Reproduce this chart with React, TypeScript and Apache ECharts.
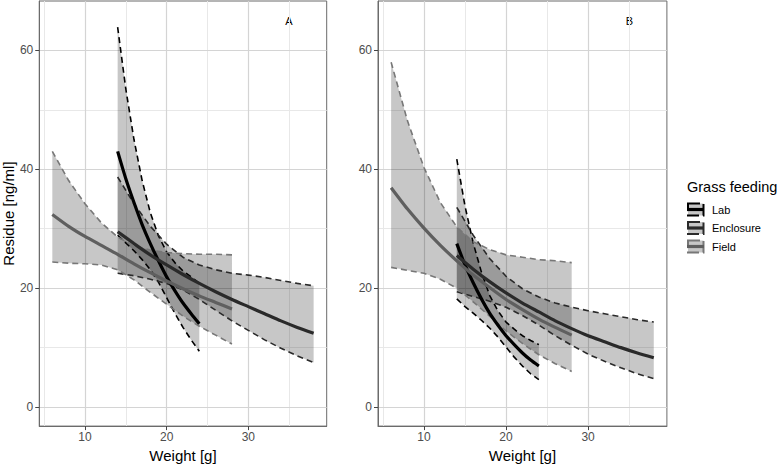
import React, { useEffect, useRef } from 'react';
import * as echarts from 'echarts';

const groups = ['Lab', 'Enclosure', 'Field'];
const lineColors = ['#000000', '#2a2a2a', '#5f5f5f'];
const dashColors = ['#000000', '#2a2a2a', '#777777'];

const weightLab = [14, 15, 16, 17, 18, 19, 20, 21, 22, 23, 24];
const weightEnclosure = [14, 16, 18, 20, 22, 24, 26, 28, 30, 32, 34, 36, 38];
const weightField = [6, 8, 10, 12, 14, 16, 18, 20, 22, 24, 26, 28];

// panel A
const labFitA = [43.0, 38.4, 34.4, 30.7, 27.5, 24.6, 21.9, 19.6, 17.5, 15.7, 14.0];
const labHiA = [63.9, 53.5, 45.0, 38.1, 32.7, 28.8, 26.1, 24.3, 22.9, 21.9, 20.8];
const labLoA = [28.9, 27.6, 26.3, 24.8, 23.1, 21.0, 18.4, 15.8, 13.4, 11.3, 9.4];
const enclosureFitA = [29.5, 27.5, 25.6, 23.9, 22.3, 20.8, 19.4, 18.1, 16.9, 15.7, 14.5, 13.4, 12.4];
const enclosureHiA = [38.7, 34.2, 30.4, 27.4, 25.2, 23.9, 23.1, 22.5, 22.2, 21.8, 21.3, 20.8, 20.4];
const enclosureLoA = [22.5, 22.1, 21.5, 20.8, 19.7, 18.1, 16.3, 14.5, 12.9, 11.3, 9.9, 8.6, 7.5];
const fieldFitA = [32.4, 30.4, 28.7, 27.2, 25.7, 24.1, 22.6, 21.2, 19.9, 18.7, 17.6, 16.5];
const fieldHiA = [43.0, 38.1, 34.2, 31.0, 28.6, 27.1, 26.4, 26.0, 25.8, 25.7, 25.7, 25.6];
const fieldLoA = [24.4, 24.2, 24.1, 23.9, 23.1, 21.4, 19.3, 17.3, 15.3, 13.6, 12.1, 10.6];

// panel B
const labFitB = [27.5, 23.9, 20.9, 18.2, 15.8, 13.8, 12.0, 10.5, 9.1, 7.9, 6.9];
const labHiB = [41.7, 33.8, 27.6, 22.7, 18.8, 16.2, 14.3, 13.1, 12.0, 11.2, 10.5];
const labLoB = [18.2, 16.9, 15.8, 14.6, 13.3, 11.8, 10.1, 8.4, 6.9, 5.6, 4.6];
const enclosureFitB = [25.5, 23.2, 21.1, 19.2, 17.5, 16.0, 14.5, 13.2, 12.0, 11.0, 10.0, 9.1, 8.3];
const enclosureHiB = [33.6, 28.9, 25.0, 22.0, 19.9, 18.5, 17.5, 16.8, 16.2, 15.7, 15.2, 14.7, 14.3];
const enclosureLoB = [19.4, 18.6, 17.8, 16.8, 15.4, 13.8, 12.0, 10.4, 8.9, 7.7, 6.6, 5.6, 4.8];
const fieldFitB = [36.9, 33.3, 30.1, 27.2, 24.6, 22.2, 20.1, 18.1, 16.4, 14.8, 13.4, 12.1];
const fieldHiB = [58.0, 48.1, 40.3, 34.4, 30.3, 27.8, 26.5, 25.6, 25.2, 24.8, 24.6, 24.3];
const fieldLoB = [23.5, 23.0, 22.5, 21.5, 20.0, 17.7, 15.3, 12.8, 10.7, 8.8, 7.3, 6.0];

const xTicks = [10, 20, 30];
const xMinor = [5, 15, 25, 35];
const yTicks = [0, 20, 40, 60];
const yMinor = [10, 30, 50];

const font = 'Liberation Sans';

export default function App() {
    const chartRef = useRef<HTMLDivElement>(null);

    useEffect(() => {
        if (!chartRef.current) return;
        const chart = echarts.init(chartRef.current, null, { renderer: 'svg' });

        const weights = [weightLab, weightEnclosure, weightField];
        const panels = [
            { tag: 'A', tagX: 289, bands: [[labLoA, labFitA, labHiA], [enclosureLoA, enclosureFitA, enclosureHiA], [fieldLoA, fieldFitA, fieldHiA]] },
            { tag: 'B', tagX: 629.5, bands: [[labLoB, labFitB, labHiB], [enclosureLoB, enclosureFitB, enclosureHiB], [fieldLoB, fieldFitB, fieldHiB]] },
        ];

        const series: any[] = [];
        panels.forEach((p, g) => {
            // grid lines, minor first
            series.push({
                type: 'line',
                xAxisIndex: g,
                yAxisIndex: g,
                data: [],
                markLine: {
                    silent: true,
                    symbol: 'none',
                    z: 0,
                    label: { show: false },
                    data: [
                        ...xMinor.map((v) => ({ xAxis: v, lineStyle: { color: '#e8e8e8', width: 1, type: 'solid' } })),
                        ...yMinor.map((v) => ({ yAxis: v, lineStyle: { color: '#e8e8e8', width: 1, type: 'solid' } })),
                        ...xTicks.map((v) => ({ xAxis: v, lineStyle: { color: '#d4d4d4', width: 1.2, type: 'solid' } })),
                        ...yTicks.map((v) => ({ yAxis: v, lineStyle: { color: '#d4d4d4', width: 1.2, type: 'solid' } })),
                    ],
                },
            });
            p.bands.forEach(([lo, fit, hi], k) => {
                const xs = weights[k];
                series.push({
                    type: 'custom',
                    name: groups[k],
                    xAxisIndex: g,
                    yAxisIndex: g,
                    z: 2,
                    silent: true,
                    data: xs.map((x, i) => [x, lo[i], hi[i]]),
                    encode: { x: 0, y: [1, 2] },
                    renderItem: (params: any, api: any) => {
                        if (params.dataIndex !== 0) return null;
                        const top = xs.map((x, i) => api.coord([x, hi[i]]));
                        const bottom = xs.map((x, i) => api.coord([x, lo[i]])).reverse();
                        return {
                            type: 'polygon',
                            shape: { points: top.concat(bottom) },
                            style: { fill: 'rgba(0,0,0,0.22)' },
                        };
                    },
                });
                [hi, lo].forEach((arr) => {
                    series.push({
                        type: 'line',
                        xAxisIndex: g,
                        yAxisIndex: g,
                        z: 3,
                        silent: true,
                        symbol: 'none',
                        data: xs.map((x, i) => [x, arr[i]]),
                        lineStyle: { color: dashColors[k], width: 1.6, type: [6, 4] },
                    });
                });
            });
            p.bands.forEach(([, fit], k) => {
                const xs = weights[k];
                series.push({
                    type: 'line',
                    name: groups[k],
                    xAxisIndex: g,
                    yAxisIndex: g,
                    z: 4,
                    silent: true,
                    symbol: 'none',
                    smooth: 0.2,
                    data: xs.map((x, i) => [x, fit[i]]),
                    lineStyle: { color: lineColors[k], width: 3.2 },
                });
            });
        });

        const axisLabel = { color: '#4d4d4d', fontSize: 12, fontFamily: font };
        const nameStyle = { color: '#000', fontSize: 15, fontFamily: font };

        const legendItems = groups.flatMap((name, k) => {
            const cy = 209.5 + k * 18.5;
            return [
                {
                    type: 'rect',
                    shape: { x: 688, y: cy - 6, width: 15.5, height: 12 },
                    style: { fill: 'rgba(0,0,0,0.22)', stroke: dashColors[k], lineWidth: 2, lineDash: [12, 4] },
                },
                { type: 'line', shape: { x1: 687, y1: cy, x2: 704, y2: cy }, style: { stroke: lineColors[k], lineWidth: 3.2 } },
                { type: 'text', x: 712, y: cy, style: { text: name, fontSize: 11, fontFamily: font, fill: '#000', verticalAlign: 'middle' } },
            ];
        });

        const option = {
            animation: false,
            grid: [
                { left: 37.3, top: 1, width: 289.4, height: 431.7, show: true, borderColor: '#6b6b6b', borderWidth: 1 },
                { left: 378, top: 1, width: 288.9, height: 431.7, show: true, borderColor: '#6b6b6b', borderWidth: 1 },
            ],
            xAxis: panels.map((_, g) => ({
                type: 'value',
                gridIndex: g,
                min: 4.4,
                max: 39.6,
                name: 'Weight [g]',
                nameLocation: 'middle',
                nameGap: 19,
                nameTextStyle: nameStyle,
                axisLine: { show: true, onZero: false, lineStyle: { color: '#6b6b6b', width: 1 } },
                axisTick: { show: true, length: 4, lineStyle: { color: '#444' }, customValues: xTicks },
                axisLabel: { ...axisLabel, margin: 5, customValues: xTicks },
                splitLine: { show: false },
            })),
            yAxis: panels.map((_, g) => ({
                type: 'value',
                gridIndex: g,
                min: -3.2,
                max: 68.3,
                name: g === 0 ? 'Residue [ng/ml]' : '',
                nameLocation: 'middle',
                nameGap: 23,
                nameTextStyle: nameStyle,
                axisLine: { show: true, onZero: false, lineStyle: { color: '#6b6b6b', width: 1 } },
                axisTick: { show: true, length: 4, lineStyle: { color: '#444' }, customValues: yTicks },
                axisLabel: { ...axisLabel, margin: 6, customValues: yTicks },
                splitLine: { show: false },
            })),
            graphic: [
                ...panels.map((p) => ({
                    type: 'text',
                    x: p.tagX,
                    y: 21,
                    style: { text: p.tag, fontSize: 11, fontFamily: font, fill: '#000', align: 'center', verticalAlign: 'middle' },
                })),
                { type: 'text', x: 687, y: 187, style: { text: 'Grass feeding', fontSize: 14.5, fontFamily: font, fill: '#000', verticalAlign: 'middle' } },
                ...legendItems,
            ],
            series,
        };

        chart.setOption(option);
        return () => chart.dispose();
    }, []);

    return <div ref={chartRef} style={{ position: 'absolute', left: 0, top: 0, width: 777, height: 468 }} />;
}
